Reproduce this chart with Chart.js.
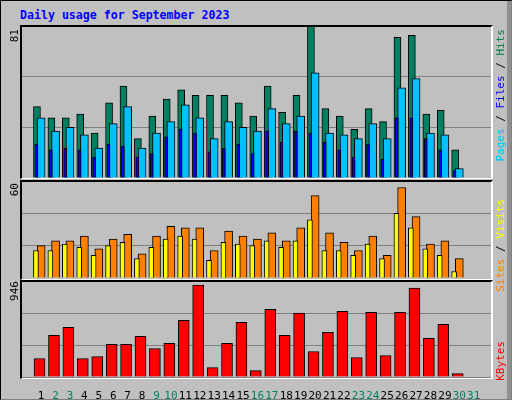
<!DOCTYPE html>
<html><head><meta charset="utf-8">
<script src="https://cdn.jsdelivr.net/npm/chart.js@4"></script>
<style>
body{margin:0;background:#fff}
#wrap{position:relative;width:510px;height:398px;background:#C0C0C0;border-top:1px solid #000;border-left:1px solid #000;border-right:1px solid #808080;border-bottom:1px solid #808080;overflow:hidden}
#wrap:after{content:"";position:absolute;right:0;top:0;width:4px;height:100%;background:#909090}
.p{position:absolute;box-sizing:border-box}
.frame{position:absolute;border-top:2px solid #000;border-left:2px solid #000;border-right:2px solid #fff;border-bottom:1px solid #fff;box-sizing:border-box;pointer-events:none}
.t{position:absolute;font-family:"DejaVu Sans Mono",monospace;font-size:11px;writing-mode:vertical-rl;transform:rotate(180deg);white-space:nowrap;line-height:12px}
#title{position:absolute;left:19px;top:7px;font-family:"DejaVu Sans Mono",monospace;font-weight:bold;font-size:11.6px;color:#0000FF}
</style></head><body>
<div id="wrap">
<div id="title">Daily usage for September 2023</div>
<canvas id="c1" class="p" style="left:20px;top:25px"></canvas>
<canvas id="c2" class="p" style="left:20px;top:180px"></canvas>
<canvas id="c3" class="p" style="left:20px;top:280px"></canvas>
<div class="frame" style="left:19px;top:24px;width:473px;height:154px"></div>
<div class="frame" style="left:19px;top:179px;width:473px;height:100px"></div>
<div class="frame" style="left:19px;top:279px;width:473px;height:99px"></div>
<div class="t" style="left:8px;top:28px">81</div>
<div class="t" style="left:8px;top:182px">60</div>
<div class="t" style="left:8px;top:280px">946</div>
<div class="t" style="left:494px;top:28px"><span style="color:#00C0FF">Pages</span> / <span style="color:#0000FF">Files</span> / <span style="color:#008040">Hits</span></div>
<div class="t" style="left:494px;top:198px"><span style="color:#FF8000">Sites</span> / <span style="color:#FFFF00">Visits</span></div>
<div class="t" style="left:494px;top:340px;color:#FF0000">KBytes</div>
</div>
<script>
const days=[1,2,3,4,5,6,7,8,9,10,11,12,13,14,15,16,17,18,19,20,21,22,23,24,25,26,27,28,29,30,31];
const weekend=[2,3,9,10,16,17,23,24,30,31];
const hits=[38,32,32,34,24,40,49,21,33,42,47,44,44,44,40,33,49,35,44,81,37,33,26,37,30,75,76,34,36,15];
const files=[32,25,27,23,16,29,38,16,24,30,39,32,21,30,27,25,37,29,33,56,24,23,21,29,21,48,53,24,23,5];
const pages=[18,15,16,15,11,18,17,11,13,22,26,24,14,16,18,13,25,19,25,24,19,15,11,18,10,32,32,21,15,4];
const sites=[17,17,21,19,14,20,22,12,19,24,26,24,11,22,21,20,23,19,23,36,17,17,14,21,12,40,31,18,14,4];
const visits=[20,23,23,26,18,24,27,15,26,32,31,31,17,29,26,24,28,23,31,51,28,22,17,26,14,56,38,21,23,12];
const kbytes=[182,410,490,182,202,321,321,400,281,331,559,906,93,331,539,63,668,410,629,251,440,648,192,638,212,638,877,380,519,33];
const maxHits=81,maxVisits=60,maxKB=946;

const pts=(arr,off)=>arr.map((v,i)=>({x:days[i]+off,y:v}));
function mk(id,w,h,max,sets,showX){
  const cv=document.getElementById(id);cv.width=w;cv.height=h;cv.style.width=w+'px';cv.style.height=h+'px';
  return new Chart(cv,{type:'bar',data:{datasets:sets.map(s=>({data:s.d,backgroundColor:s.c,borderColor:'#000',borderWidth:1,borderSkipped:'bottom',barThickness:s.t,order:s.o,grouped:false}))},
  options:{responsive:false,animation:false,devicePixelRatio:1,layout:{padding:0},
   plugins:{legend:{display:false},tooltip:{enabled:false}},
   scales:{
    x:{type:'linear',min:0.13,max:31.74,display:showX,grid:{display:false},border:{display:false},
       afterBuildTicks:s=>{s.ticks=days.map(d=>({value:d}));},
       afterFit:s=>{s.height=showX?22:0},
       ticks:{autoSkip:false,maxRotation:0,padding:5,font:{family:'"DejaVu Sans Mono"',size:11},
         color:c=>weekend.includes(days[c.index])?'#008060':'#000',callback:v=>String(v)}},
    y:{min:0,max:max,afterFit:s=>{s.width=0},border:{display:false},
       ticks:{display:false},afterBuildTicks:s=>{s.ticks=[0,max/3,2*max/3,max].map(v=>({value:v}));},
       grid:{color:'#808080',lineWidth:1,drawTicks:false}}}}});
}
mk('c1',471,152,maxHits,[
 {d:pts(hits,-0.29),c:'#008060',t:7,o:3},
 {d:pts(pages,-0.33),c:'#0000FF',t:3,o:1},
 {d:pts(files,0),c:'#00C0FF',t:8,o:2}],false);
mk('c2',471,97,maxVisits,[
 {d:pts(sites,-0.36),c:'#FFFF00',t:5,o:1},
 {d:pts(visits,0),c:'#FF8000',t:8,o:2}],false);
mk('c3',471,118,maxKB,[
 {d:pts(kbytes,-0.11),c:'#FF0000',t:11,o:1}],true);
</script>
</body></html>
